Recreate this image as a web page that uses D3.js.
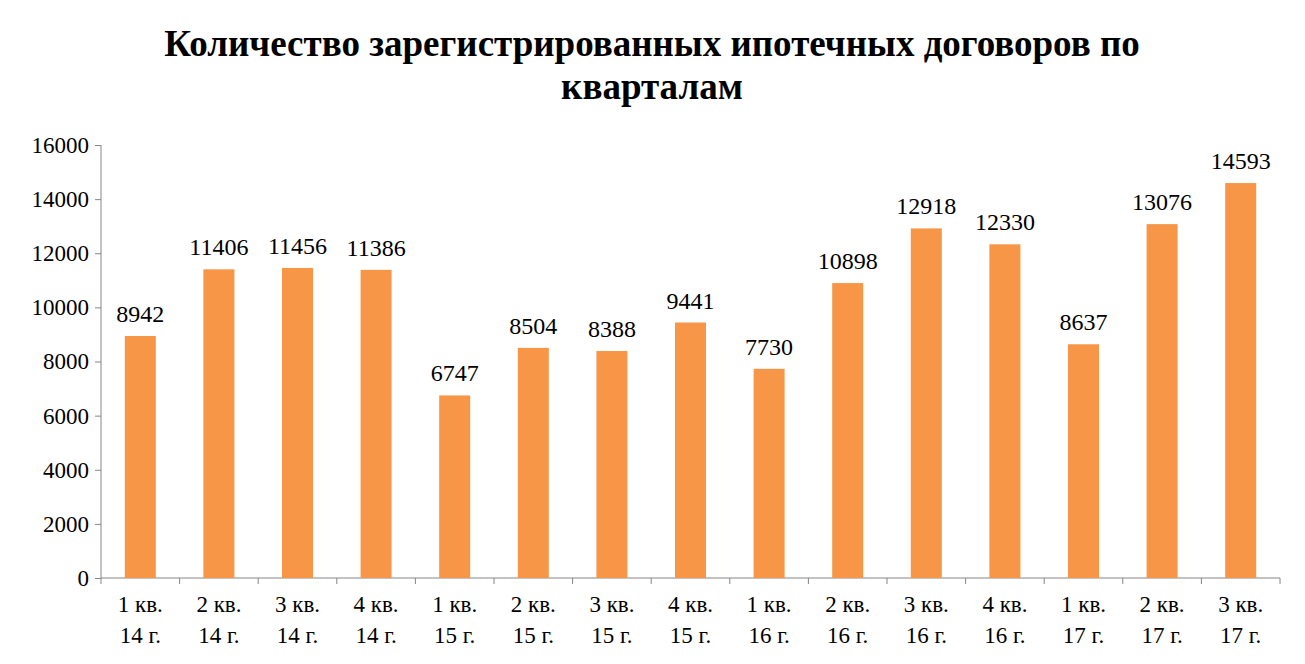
<!DOCTYPE html>
<html><head><meta charset="utf-8">
<script src="https://cdn.jsdelivr.net/npm/d3@7"></script>
<style>body{margin:0;background:#fff}text{font-family:"Liberation Serif","Times New Roman",serif}</style>
</head><body><svg width="1305" height="664"></svg>
<script>
var quarters = ["1 кв.","2 кв.","3 кв.","4 кв.","1 кв.","2 кв.","3 кв.","4 кв.","1 кв.","2 кв.","3 кв.","4 кв.","1 кв.","2 кв.","3 кв."];
var years = ["14 г.","14 г.","14 г.","14 г.","15 г.","15 г.","15 г.","15 г.","16 г.","16 г.","16 г.","16 г.","17 г.","17 г.","17 г."];
var values = [8942,11406,11456,11386,6747,8504,8388,9441,7730,10898,12918,12330,8637,13076,14593];
var yTicks = [0,2000,4000,6000,8000,10000,12000,14000,16000];

var svg = d3.select("svg");
var plotL = 101, plotR = 1280, plotT = 145, plotB = 578;
var idx = d3.range(values.length);

var x = d3.scaleBand().domain(idx).range([plotL, plotR]);
var y = d3.scaleLinear().domain([0, 16000]).range([plotB, plotT]);

svg.append("text").attr("x", 652).attr("y", 56).attr("text-anchor", "middle")
   .style("font-size", "37px").style("font-weight", "bold")
   .text("Количество зарегистрированных ипотечных договоров по");
svg.append("text").attr("x", 652).attr("y", 99).attr("text-anchor", "middle")
   .style("font-size", "37px").style("font-weight", "bold")
   .text("кварталам");

// y axis
var ya = svg.append("g").attr("transform", "translate(" + plotL + ",0)")
   .call(d3.axisLeft(y).tickValues(yTicks).tickSize(6).tickPadding(6).tickFormat(d3.format("d")));
ya.selectAll("text").style("font-size", "23px").attr("fill", "#000");
ya.selectAll("line,path").attr("stroke", "#868686");
ya.select(".domain").attr("d", "M0," + plotT + "V" + plotB);

// x axis line and ticks at band edges
svg.append("line").attr("x1", plotL).attr("x2", plotR).attr("y1", plotB).attr("y2", plotB).attr("stroke", "#868686");
svg.selectAll(".xt").data(d3.range(values.length + 1)).enter().append("line")
   .attr("x1", function (i) { return plotL + i * x.step(); })
   .attr("x2", function (i) { return plotL + i * x.step(); })
   .attr("y1", plotB).attr("y2", plotB + 6).attr("stroke", "#868686");

var bw = 31;
svg.selectAll(".bar").data(idx).enter().append("rect")
   .attr("x", function (i) { return x(i) + x.bandwidth() / 2 - bw / 2; })
   .attr("y", function (i) { return y(values[i]); })
   .attr("width", bw)
   .attr("height", function (i) { return plotB - y(values[i]); })
   .attr("fill", "#F79646");

svg.selectAll(".lbl").data(idx).enter().append("text")
   .attr("x", function (i) { return x(i) + x.bandwidth() / 2; })
   .attr("y", function (i) { return y(values[i]) - 14; })
   .attr("text-anchor", "middle").style("font-size", "24px")
   .text(function (i) { return values[i]; });

svg.selectAll(".q").data(idx).enter().append("text")
   .attr("x", function (i) { return x(i) + x.bandwidth() / 2; })
   .attr("y", 612).attr("text-anchor", "middle").style("font-size", "23px")
   .text(function (i) { return quarters[i]; });
svg.selectAll(".yr").data(idx).enter().append("text")
   .attr("x", function (i) { return x(i) + x.bandwidth() / 2; })
   .attr("y", 643).attr("text-anchor", "middle").style("font-size", "23px")
   .text(function (i) { return years[i]; });
</script></body></html>
